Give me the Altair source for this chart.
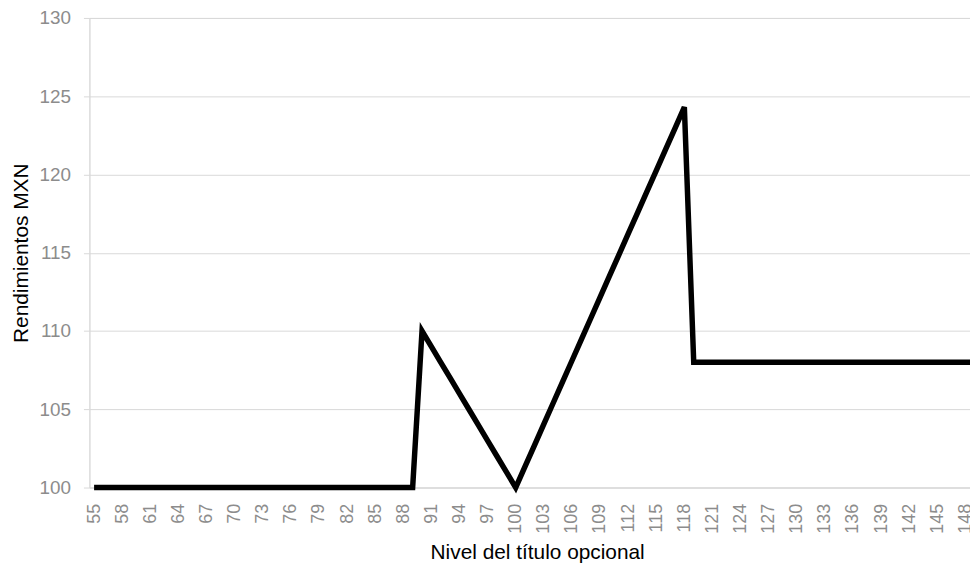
import altair as alt
import pandas as pd

nivel = list(range(55, 151))
rendimiento = (
    [100] * 35
    + [110, 109, 108, 107, 106, 105, 104, 103, 102, 101, 100]
    + [101.35, 102.7, 104.05, 105.4, 106.75, 108.1, 109.45, 110.8, 112.15,
       113.5, 114.85, 116.2, 117.55, 118.9, 120.25, 121.6, 122.95, 124.3]
    + [108] * 32
)
x_tick_labels = [55, 58, 61, 64, 67, 70, 73, 76, 79, 82, 85, 88, 91, 94, 97, 100,
                 103, 106, 109, 112, 115, 118, 121, 124, 127, 130, 133, 136, 139,
                 142, 145, 148]
y_ticks = [100, 105, 110, 115, 120, 125, 130]

df = pd.DataFrame({"nivel": nivel, "rend": rendimiento})

FONT = "Liberation Sans"
GRID = "#d9d9d9"
LABEL = "#8c8c8c"

chart = alt.Chart(df).mark_line(color="black", strokeWidth=5.5, clip=False).encode(
    x=alt.X("nivel:O", sort=None,
            scale=alt.Scale(range=[0, 906]),
            axis=alt.Axis(title="Nivel del título opcional", values=x_tick_labels,
                          labelAngle=-90, labelFontSize=18, labelColor=LABEL,
                          labelFont=FONT, labelPadding=16, ticks=False, tickSize=0,
                          domainColor=GRID, domainWidth=1, grid=False,
                          titleFont=FONT, titleFontSize=21, titleFontWeight="normal",
                          titleColor="black", titlePadding=8, titleX=451)),
    y=alt.Y("rend:Q", scale=alt.Scale(domain=[100, 130], nice=False, zero=False),
            axis=alt.Axis(title="Rendimientos MXN", values=y_ticks,
                          labelFontSize=19, labelColor=LABEL, labelFont=FONT,
                          tickSize=6, tickColor=GRID, labelPadding=13,
                          domainColor=GRID, gridColor=GRID, gridWidth=1,
                          titleFont=FONT, titleFontSize=21, titleFontWeight="normal",
                          titleColor="black", titlePadding=8)),
).properties(
    width=887, height=473,
    autosize=alt.AutoSizeParams(type="none"),
    padding={"left": 82, "top": 8, "right": 0, "bottom": 76},
).configure_view(stroke=None).configure(background="white")

chart.save("out.html", embed_options={"renderer": "svg", "actions": False})
